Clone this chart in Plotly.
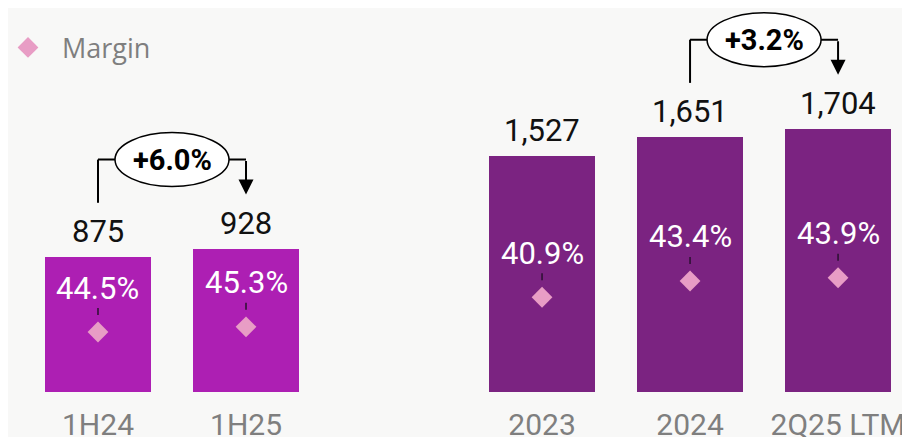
import plotly.graph_objects as go

# ---- data ----
periods = ["1H24", "1H25", "2023", "2024", "2Q25 LTM"]
revenue = [875, 928, 1527, 1651, 1704]
margin = [44.5, 45.3, 40.9, 43.4, 43.9]
growth_labels = ["+6.0%", "+3.2%"]

# ---- layout / styling ----
slots = [0, 1, 3, 4, 5]            # x position of each bar (gap between groups)
half_idx = [0, 1]                  # half-year bars
year_idx = [2, 3, 4]               # full-year bars
pairs = [(0, 1), (3, 4)]           # bracket from -> to

HALF_COLOR = "#AD1FB3"
YEAR_COLOR = "#7B2381"
DIAMOND = "#E89DC5"
BG = "#F8F8F7"
NUM_FONT = "Roboto, sans-serif"

# page body adds an 8px offset, so the figure is 8px smaller than the window
W, H = 902, 429
PLOT_H = 384
Y_MAX = 2485
PX = Y_MAX / PLOT_H                # data units per pixel

fig = go.Figure()

fig.add_trace(go.Bar(
    x=slots, y=revenue, width=0.716,
    marker_color=[HALF_COLOR if i in half_idx else YEAR_COLOR for i in range(len(revenue))],
    marker_line_width=0, showlegend=False, hoverinfo="skip",
))

fig.add_trace(go.Scatter(
    x=[slots[i] for i in half_idx], y=[margin[i] for i in half_idx],
    mode="markers", yaxis="y2", name="\u00a0\u00a0Margin",
    marker=dict(symbol="diamond", size=16, color=DIAMOND),
    showlegend=True,
))
fig.add_trace(go.Scatter(
    x=[slots[i] for i in year_idx], y=[margin[i] for i in year_idx],
    mode="markers", yaxis="y3", name="Margin",
    marker=dict(symbol="diamond", size=16, color=DIAMOND),
    showlegend=False,
))

annotations = []
# revenue labels
for s, v in zip(slots, revenue):
    annotations.append(dict(
        x=s, y=v, xref="x", yref="y", yanchor="bottom", yshift=5,
        text=f"{v:,}", showarrow=False,
        font=dict(family=NUM_FONT, size=31, color="#111111"),
    ))
# margin labels with a short leader tick
for i, (s, m) in enumerate(zip(slots, margin)):
    annotations.append(dict(
        x=s, y=m, xref="x", yref="y2" if i in half_idx else "y3",
        text=f"{m}%", showarrow=True, ax=0, ay=-44,
        arrowhead=0, arrowwidth=1.5, arrowcolor="#2A1030", standoff=17,
        font=dict(family=NUM_FONT, size=31, color="white"),
    ))

shapes = []
lift = 54 * PX
rise = 89 * PX
for (a, b), lab in zip(pairs, growth_labels):
    xa, xb = slots[a], slots[b]
    yh = max(revenue[a], revenue[b]) + rise
    shapes.append(dict(type="line", xref="x", yref="y", x0=xa, x1=xa,
                       y0=revenue[a] + lift, y1=yh, line=dict(color="black", width=2)))
    shapes.append(dict(type="line", xref="x", yref="y", x0=xa, x1=xb,
                       y0=yh, y1=yh, line=dict(color="black", width=2)))
    shapes.append(dict(type="circle", xref="x", yref="y",
                       xsizemode="pixel", ysizemode="pixel",
                       xanchor=(xa + xb) / 2, yanchor=yh,
                       x0=-57, x1=57, y0=-27, y1=27,
                       fillcolor="white", line=dict(color="black", width=1.5)))
    annotations.append(dict(
        x=xb, y=revenue[b] + lift, xref="x", yref="y",
        ax=xb, ay=yh, axref="x", ayref="y", text="",
        showarrow=True, arrowhead=2, arrowsize=1.5, arrowwidth=2, arrowcolor="black",
    ))
    annotations.append(dict(
        x=(xa + xb) / 2, y=yh, xref="x", yref="y", text=f"<b>{lab}</b>",
        showarrow=False, font=dict(family=NUM_FONT, size=29, color="black"),
    ))

fig.update_layout(
    width=W, height=H, template="none",
    paper_bgcolor=BG, plot_bgcolor=BG,
    margin=dict(l=0, r=0, t=0, b=H - PLOT_H),
    bargap=0,
    xaxis=dict(range=[-0.608, 5.486], tickvals=slots, ticktext=periods,
               showgrid=False, zeroline=False, showline=False, ticks="",
               automargin=False, fixedrange=True, ticklabeloverflow="allow",
               ticklabelstandoff=12,
               tickfont=dict(family=NUM_FONT, size=30, color="#7F7F7F")),
    yaxis=dict(range=[0, Y_MAX], visible=False, fixedrange=True),
    yaxis2=dict(range=[35.27, 94.35], overlaying="y", visible=False),
    yaxis3=dict(range=[26.32, 85.4], overlaying="y", visible=False),
    legend=dict(x=0, y=0.96, xanchor="left", yanchor="top",
                bgcolor="rgba(0,0,0,0)",
                font=dict(family="Open Sans", size=27, color="#7F7F7F")),
    shapes=shapes, annotations=annotations,
)

fig.write_html("out.html")
